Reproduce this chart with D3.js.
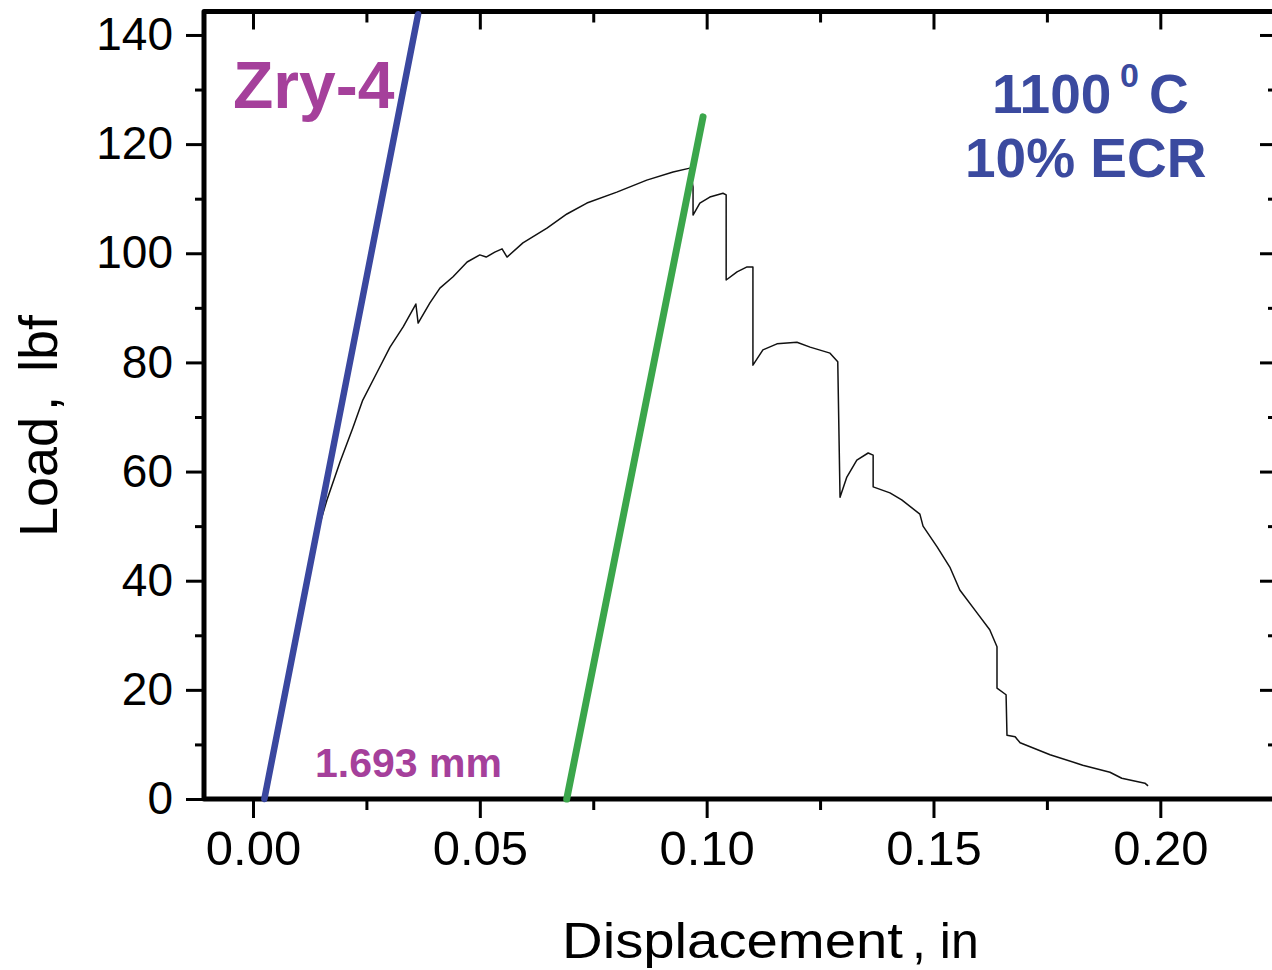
<!DOCTYPE html>
<html>
<head>
<meta charset="utf-8">
<script src="https://cdn.jsdelivr.net/npm/d3@7"></script>
<style>
  html, body { margin: 0; padding: 0; background: #fff; }
  svg { display: block; font-family: "Liberation Sans", Arial, sans-serif; }
</style>
</head>
<body>
<svg id="chart" width="1272" height="970"></svg>
<script>
// Load–displacement record, Zry-4 ring compression (1100 °C, 10% ECR)
const displacement = [
  0.0025, 0.0115, 0.0137, 0.0163, 0.0192, 0.0220, 0.0242, 0.0273, 0.0302, 0.0331,
  0.0359, 0.0364, 0.0390, 0.0412, 0.0441, 0.0472, 0.0500, 0.0514, 0.0533, 0.0549,
  0.0560, 0.0595, 0.0648, 0.0692, 0.0736, 0.0802, 0.0868, 0.0926, 0.0963, 0.0970,
  0.0970, 0.0985, 0.1007, 0.1036, 0.1043, 0.1043, 0.1067, 0.1089, 0.1102, 0.1102,
  0.1124, 0.1155, 0.1199, 0.1228, 0.1272, 0.1289, 0.1294, 0.1309, 0.1331, 0.1356,
  0.1367, 0.1367, 0.1404, 0.1430, 0.1470, 0.1477, 0.1508, 0.1536, 0.1558, 0.1596,
  0.1624, 0.1640, 0.1640, 0.1660, 0.1662, 0.1680, 0.1691, 0.1757, 0.1829, 0.1889,
  0.1915, 0.1966, 0.1973
];
const load = [
  0.0, 39.2, 47.5, 54.8, 61.8, 68.0, 73.1, 78.1, 82.8, 86.5,
  90.7, 87.2, 90.9, 93.6, 95.7, 98.4, 99.7, 99.3, 100.2, 100.8,
  99.3, 101.9, 104.6, 107.2, 109.2, 111.2, 113.4, 114.9, 115.6, 112.1,
  107.0, 109.2, 110.3, 111.0, 110.7, 95.1, 96.6, 97.5, 97.5, 79.5,
  82.3, 83.4, 83.7, 82.8, 81.7, 80.1, 55.3, 59.0, 62.1, 63.4,
  63.0, 57.2, 56.1, 54.8, 52.2, 50.0, 46.2, 42.5, 38.3, 34.1,
  31.0, 27.9, 20.3, 19.1, 11.7, 11.4, 10.3, 8.1, 6.2, 4.9,
  3.8, 2.9, 2.4
];

// Elastic-slope line through the origin and its parallel offset line
const elasticX = [0.0025, 0.0364];
const elasticY = [0.0, 143.8];
const offsetMm = 1.693;
const offsetTopX = 0.0992;
const offsetY = [0.0, 125.0];

// Axis ticks
const xMajor = [0.00, 0.05, 0.10, 0.15, 0.20];
const xMinor = [0.025, 0.075, 0.125, 0.175, 0.225];
const yMajor = [0, 20, 40, 60, 80, 100, 120, 140];
const yMinor = [10, 30, 50, 70, 90, 110, 130];

const svg = d3.select("#chart");

const x = d3.scaleLinear().domain([-0.0108, 0.2255]).range([204, 1276]);
const y = d3.scaleLinear().domain([0, 144.3]).range([799, 11.5]);

const tickW = 3;

// Bottom axis: outward ticks and labels
const gB = svg.append("g").attr("transform", `translate(0,${y(0)})`);
gB.call(d3.axisBottom(x).tickValues(xMajor).tickSize(19).tickPadding(12)
  .tickFormat(d3.format(".2f")));
gB.append("g").call(d3.axisBottom(x).tickValues(xMinor).tickSize(11).tickFormat(""));

// Left axis: outward ticks and labels
const gL = svg.append("g").attr("transform", `translate(${x.range()[0]},0)`);
gL.call(d3.axisLeft(y).tickValues(yMajor).tickSize(18).tickPadding(13));
gL.append("g").call(d3.axisLeft(y).tickValues(yMinor).tickSize(9).tickFormat(""));

// Top axis: inward ticks
const gT = svg.append("g").attr("transform", `translate(0,${y.range()[1]})`);
gT.call(d3.axisBottom(x).tickValues(xMajor).tickSize(18).tickFormat(""));
gT.append("g").call(d3.axisBottom(x).tickValues(xMinor).tickSize(11).tickFormat(""));

// Right axis: inward ticks
const gR = svg.append("g").attr("transform", `translate(${x.range()[1]},0)`);
gR.call(d3.axisLeft(y).tickValues(yMajor).tickSize(16).tickFormat(""));
gR.append("g").call(d3.axisLeft(y).tickValues(yMinor).tickSize(8).tickFormat(""));

svg.selectAll(".domain").remove();
svg.selectAll(".tick line").attr("stroke", "#000").attr("stroke-width", tickW);
gB.selectAll(".tick text").attr("font-size", 49).attr("fill", "#000")
  .attr("font-family", "Liberation Sans, Arial, sans-serif");
gL.selectAll(".tick text").attr("font-size", 46).attr("fill", "#000")
  .attr("font-family", "Liberation Sans, Arial, sans-serif");

// Frame
svg.append("rect")
  .attr("x", x.range()[0]).attr("y", y.range()[1])
  .attr("width", x.range()[1] - x.range()[0])
  .attr("height", y.range()[0] - y.range()[1])
  .attr("fill", "none").attr("stroke", "#000").attr("stroke-width", 5)
  .attr("stroke-linejoin", "round");

// Measured curve
const pts = displacement.map((d, i) => [d, load[i]]);
svg.append("path")
  .datum(pts)
  .attr("fill", "none").attr("stroke", "#111").attr("stroke-width", 1.5)
  .attr("stroke-linejoin", "round")
  .attr("d", d3.line().x(d => x(d[0])).y(d => y(d[1])));

// Elastic slope (blue) and offset line (green)
const line = d3.line().x(d => x(d[0])).y(d => y(d[1]));
svg.append("path")
  .datum([[elasticX[0], elasticY[0]], [elasticX[1], elasticY[1]]])
  .attr("fill", "none").attr("stroke", "#3a479f").attr("stroke-width", 6.5)
  .attr("stroke-linecap", "round").attr("d", line);

const offsetStart = elasticX[0] + offsetMm / 25.4;
svg.append("path")
  .datum([[offsetStart, offsetY[0]], [offsetTopX, offsetY[1]]])
  .attr("fill", "none").attr("stroke", "#3ba64b").attr("stroke-width", 7)
  .attr("stroke-linecap", "round").attr("d", line);

// Annotations
const magenta = "#a5409b";
const blueText = "#3b4a9f";
svg.append("text").attr("x", 233).attr("y", 108)
  .attr("font-size", 66).attr("font-weight", "bold").attr("fill", magenta)
  .text("Zry-4");
svg.append("text").attr("x", 315).attr("y", 777)
  .attr("font-size", 41).attr("font-weight", "bold").attr("fill", magenta)
  .text(`${offsetMm} mm`);

svg.append("text").attr("x", 992).attr("y", 113)
  .attr("font-size", 55).attr("font-weight", "bold").attr("fill", blueText)
  .text("1100");
svg.append("text").attr("x", 1120).attr("y", 87)
  .attr("font-size", 34).attr("font-weight", "bold").attr("fill", blueText)
  .text("0");
svg.append("text").attr("x", 1149).attr("y", 113)
  .attr("font-size", 55).attr("font-weight", "bold").attr("fill", blueText)
  .text("C");
svg.append("text").attr("x", 965).attr("y", 177)
  .attr("font-size", 55).attr("font-weight", "bold").attr("fill", blueText)
  .text("10% ECR");

// Axis titles
svg.append("text").attr("x", 562).attr("y", 958)
  .attr("font-size", 50).attr("fill", "#000")
  .attr("textLength", 341).attr("lengthAdjust", "spacingAndGlyphs")
  .text("Displacement");
svg.append("text").attr("x", 912).attr("y", 958)
  .attr("font-size", 50).attr("fill", "#000")
  .text(", in");

const yt = svg.append("g").attr("transform", "translate(57,537) rotate(-90)");
yt.append("text").attr("x", 0).attr("y", 0)
  .attr("font-size", 54).attr("fill", "#000").text("Load");
yt.append("text").attr("x", 126).attr("y", 0)
  .attr("font-size", 54).attr("fill", "#000").text(",");
yt.append("text").attr("x", 165).attr("y", 0)
  .attr("font-size", 54).attr("fill", "#000").text("lbf");
</script>
</body>
</html>
